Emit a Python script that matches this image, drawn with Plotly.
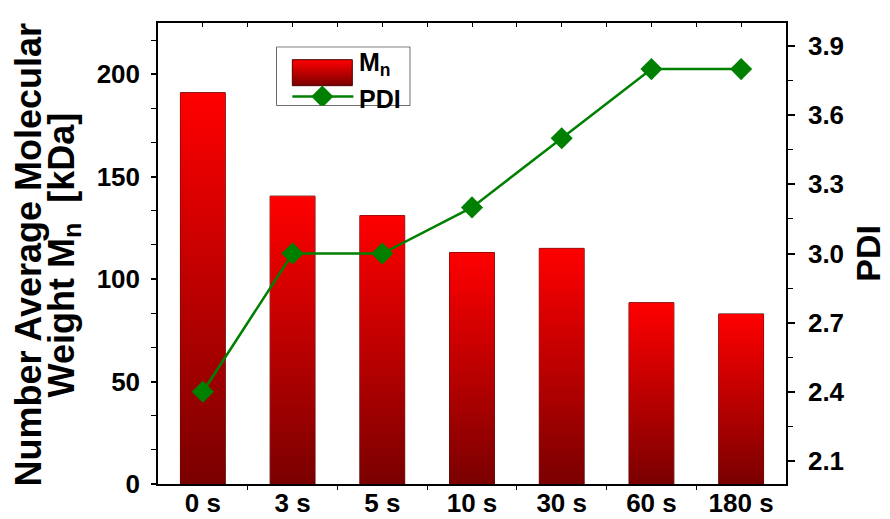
import plotly.graph_objects as go

categories = ["0 s", "3 s", "5 s", "10 s", "30 s", "60 s", "180 s"]
mn_values = [191, 140.5, 131, 113, 115, 88.5, 83]
pdi_values = [2.4, 3.0, 3.0, 3.2, 3.5, 3.8, 3.8]
left_ticks = [0, 50, 100, 150, 200]
right_ticks = [2.1, 2.4, 2.7, 3.0, 3.3, 3.6, 3.9]

FONT = "Liberation Sans"
BAR_W = 0.5
GRAD = [[0, "#7a0000"], [1, "#ff0000"]]
idx = list(range(len(categories)))

L, R, T, B = 157.5, 104, 23.3, 35
PW, PH = 890 - L - R, 519 - T - B


def px_x(px):
    return (px - L) / PW


def px_y(py):
    return (519 - B - py) / PH


fig = go.Figure()

# gradient bar bodies
for i, v in zip(idx, mn_values):
    fig.add_trace(go.Scatter(
        x=[i - BAR_W / 2, i + BAR_W / 2, i + BAR_W / 2, i - BAR_W / 2, i - BAR_W / 2],
        y=[0, 0, v, v, 0],
        mode="lines", line=dict(width=0), fill="toself",
        fillgradient=dict(type="vertical", colorscale=GRAD),
        hoverinfo="skip", showlegend=False, xaxis="x", yaxis="y"))

# bar outlines
fig.add_trace(go.Bar(
    x=idx, y=mn_values, width=BAR_W, name="Mn",
    marker=dict(color="rgba(0,0,0,0)", line=dict(color="#4a0000", width=1)),
    showlegend=False, xaxis="x", yaxis="y"))

# PDI line
fig.add_trace(go.Scatter(
    x=idx, y=pdi_values, mode="lines+markers", name="PDI",
    line=dict(color="#008000", width=2.5),
    marker=dict(symbol="diamond", size=17, color="#008000"),
    showlegend=False, xaxis="x2", yaxis="y2"))

# legend (drawn in an auxiliary box)
fig.add_trace(go.Scatter(
    x=[0.119, 0.567, 0.567, 0.119, 0.119], y=[0.34, 0.34, 0.78, 0.78, 0.34],
    mode="lines", line=dict(color="#4a0000", width=1), fill="toself",
    fillgradient=dict(type="vertical", colorscale=GRAD),
    hoverinfo="skip", showlegend=False, xaxis="x3", yaxis="y3"))
fig.add_trace(go.Scatter(
    x=[0.119, 0.343, 0.575], y=[0.155, 0.155, 0.155], mode="lines",
    line=dict(color="#008000", width=2.5),
    hoverinfo="skip", showlegend=False, xaxis="x3", yaxis="y3"))
fig.add_trace(go.Scatter(
    x=[0.343], y=[0.155], mode="markers",
    marker=dict(symbol="diamond", size=17, color="#008000"),
    hoverinfo="skip", showlegend=False, xaxis="x3", yaxis="y3"))

boundaries = [i + 0.5 for i in idx[:-1]]


def tfont(size):
    return dict(family=FONT, size=size, color="black", weight="bold")


fig.update_layout(
    width=890, height=519,
    margin=dict(l=L, r=R, t=T, b=B),
    paper_bgcolor="white", plot_bgcolor="white",
    font=dict(family=FONT, color="black"),
    xaxis=dict(
        range=[-0.5, 6.5], tickmode="array", tickvals=idx, ticktext=categories,
        ticks="", showgrid=False, zeroline=False, automargin=False,
        showline=True, linecolor="black", linewidth=1.5,
        tickfont=tfont(26), ticklabelstandoff=-5,
        minor=dict(tickmode="array", tickvals=boundaries, ticks="outside",
                   ticklen=4, tickcolor="black", tickwidth=1, showgrid=False)),
    xaxis2=dict(
        range=[-0.5, 6.5], overlaying="x", side="top", anchor="y2",
        tickmode="array", tickvals=idx, showticklabels=False, automargin=False,
        ticks="inside", ticklen=4, tickcolor="black", tickwidth=1,
        showgrid=False, zeroline=False,
        showline=True, linecolor="black", linewidth=1.5,
        minor=dict(tickmode="array", tickvals=boundaries, ticks="inside",
                   ticklen=4, tickcolor="black", tickwidth=1, showgrid=False)),
    yaxis=dict(
        range=[0, 225], tickmode="array", tickvals=left_ticks,
        ticks="outside", ticklen=5, tickwidth=1.5, tickcolor="black",
        showgrid=False, zeroline=False, automargin=False,
        showline=True, linecolor="black", linewidth=1.5,
        tickfont=tfont(26), ticklabelstandoff=6,
        minor=dict(tickmode="array",
                   tickvals=[v + d for v in left_ticks for d in (50 / 3, 100 / 3)],
                   ticks="outside", ticklen=5, tickwidth=1, tickcolor="black",
                   showgrid=False)),
    yaxis2=dict(
        range=[2.0, 4.0], overlaying="y", side="right", anchor="x2",
        tickmode="array", tickvals=right_ticks,
        ticktext=[f"{v:.1f}" for v in right_ticks],
        ticks="outside", ticklen=7, tickwidth=1.5, tickcolor="black",
        showgrid=False, zeroline=False, automargin=False,
        showline=True, linecolor="black", linewidth=1.5,
        tickfont=tfont(26), ticklabelstandoff=8,
        minor=dict(tickmode="array",
                   tickvals=[v + 0.15 for v in right_ticks[:-1]] + [3.75],
                   ticks="outside", ticklen=5, tickwidth=1, tickcolor="black",
                   showgrid=False)),
    xaxis3=dict(domain=[px_x(276), px_x(410)], range=[0, 1], anchor="y3", visible=False),
    yaxis3=dict(domain=[px_y(106), px_y(47)], range=[0, 1], anchor="x3", visible=False),
    shapes=[dict(type="rect", xref="x3", yref="y3", x0=0, x1=1, y0=0, y1=1,
                 line=dict(color="black", width=1.2), fillcolor="rgba(0,0,0,0)",
                 layer="below")],
    annotations=[
        dict(text="M<sub>n</sub>", xref="x3", yref="y3", x=0.6, y=0.7,
             xanchor="left", yanchor="middle", showarrow=False, font=tfont(25)),
        dict(text="PDI", xref="x3", yref="y3", x=0.6, y=0.12,
             xanchor="left", yanchor="middle", showarrow=False, font=tfont(25)),
        dict(text="Number Average Molecular", xref="paper", yref="paper",
             x=px_x(28), y=px_y(255), xanchor="center", yanchor="middle",
             textangle=-90, showarrow=False, font=tfont(36)),
        dict(text="Weight M<sub>n</sub> \u00a0[kDa]", xref="paper", yref="paper",
             x=px_x(63), y=px_y(255), xanchor="center", yanchor="middle",
             textangle=-90, showarrow=False, font=tfont(36)),
        dict(text="PDI", xref="paper", yref="paper",
             x=px_x(868), y=px_y(253), xanchor="center", yanchor="middle",
             textangle=-90, showarrow=False, font=tfont(34)),
    ],
)

fig.write_html("out.html",
               config={"displayModeBar": False},
               post_script="document.body.style.margin='0px';"
                           "document.body.style.overflow='hidden';")
